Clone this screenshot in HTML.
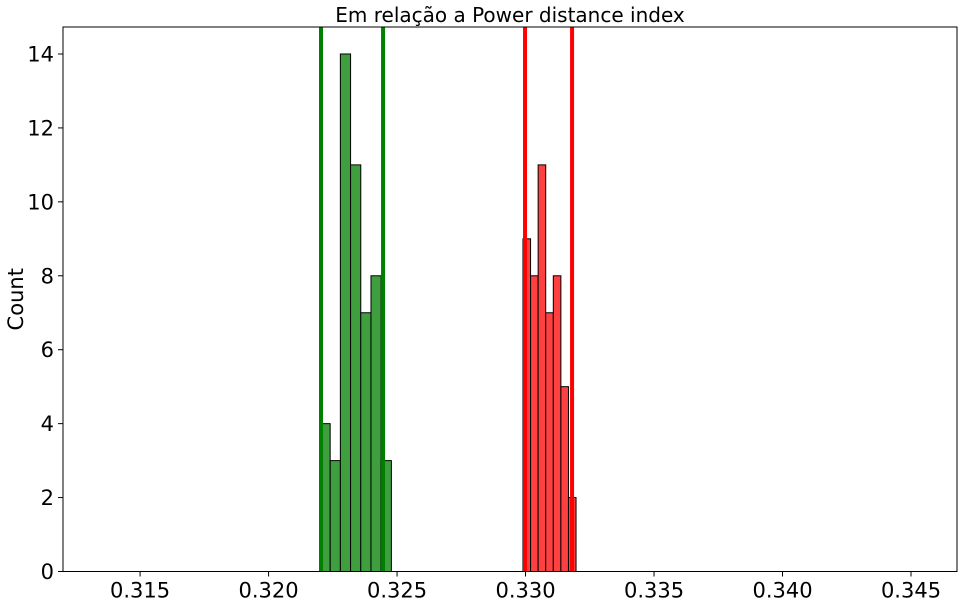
<!DOCTYPE html>
<html><head><meta charset="utf-8"><style>
body{margin:0;background:#fff;}
svg text{font-family:"DejaVu Sans","Liberation Sans",sans-serif;fill:#000;}
</style></head><body>
<svg id="chart" width="962" height="604" xmlns="http://www.w3.org/2000/svg"></svg>
<script>
const greenStart = 0.32200, greenWidth = 0.000397;
const greenCounts = [4,3,14,11,7,8,3];
const redStart = 0.32990, redWidth = 0.000295;
const redCounts = [9,8,11,7,8,5,2];
const greenLines = [0.32204, 0.324455];
const redLines = [0.32998, 0.33181];
const xTicks = [0.315,0.320,0.325,0.330,0.335,0.340,0.345];
const xTickLabels = ["0.315","0.320","0.325","0.330","0.335","0.340","0.345"];
const yTicks = [0,2,4,6,8,10,12,14];

const L=63,R=957,T=27,B=571.5;
const xMin=0.31200,xMax=0.34679,yMax=14.73;
const sx=v=>L+(v-xMin)/(xMax-xMin)*(R-L);
const sy=v=>B-v/yMax*(B-T);
const svg=document.getElementById('chart');
const NS='http://www.w3.org/2000/svg';
function mk(tag,attrs,parent){const e=document.createElementNS(NS,tag);for(const k in attrs)e.setAttribute(k,attrs[k]);(parent||svg).appendChild(e);return e;}

function bars(start,w,counts,fill,name){
  counts.forEach((c,i)=>{
    const x0=sx(start+i*w),x1=sx(start+(i+1)*w);
    const r=mk('rect',{x:x0,y:sy(c),width:x1-x0,height:sy(0)-sy(c),fill:fill,stroke:'#000','stroke-width':1});
    
    
  });
}
bars(greenStart,greenWidth,greenCounts,'#3f9f3f','green');
bars(redStart,redWidth,redCounts,'#ff4040','red');
function vlines(arr,color,name){
  arr.forEach((v,i)=>{
    const l=mk('line',{x1:sx(v),x2:sx(v),y1:T,y2:B,stroke:color,'stroke-width':4});
    
    
  });
}
vlines(greenLines,'#008000','green');
vlines(redLines,'#ff0000','red');

const fr=mk('rect',{x:L,y:T,width:R-L,height:B-T,fill:'none',stroke:'#000','stroke-width':1});



xTicks.forEach((v,i)=>{
  const x=sx(v);
  mk('line',{x1:x,x2:x,y1:B,y2:B+5,stroke:'#000','stroke-width':1});
  const t=mk('text',{x:x,y:B+26,'font-size':21,'text-anchor':'middle'});
  t.textContent=xTickLabels[i];
  
  
});
yTicks.forEach(v=>{
  const y=sy(v);
  mk('line',{x1:L-5,x2:L,y1:y,y2:y,stroke:'#000','stroke-width':1});
  const t=mk('text',{x:L-9,y:y+7.5,'font-size':21,'text-anchor':'end'});
  t.textContent=String(v);
  
  
});
const yt=mk('text',{x:23,y:(T+B)/2,'font-size':21,'text-anchor':'middle',transform:'rotate(-90 23 '+((T+B)/2)+')'});
yt.textContent='Count';


const tt=mk('text',{x:(L+R)/2,y:22,'font-size':20,'text-anchor':'middle'});
tt.textContent='Em relação a Power distance index';


</script>
</body></html>
